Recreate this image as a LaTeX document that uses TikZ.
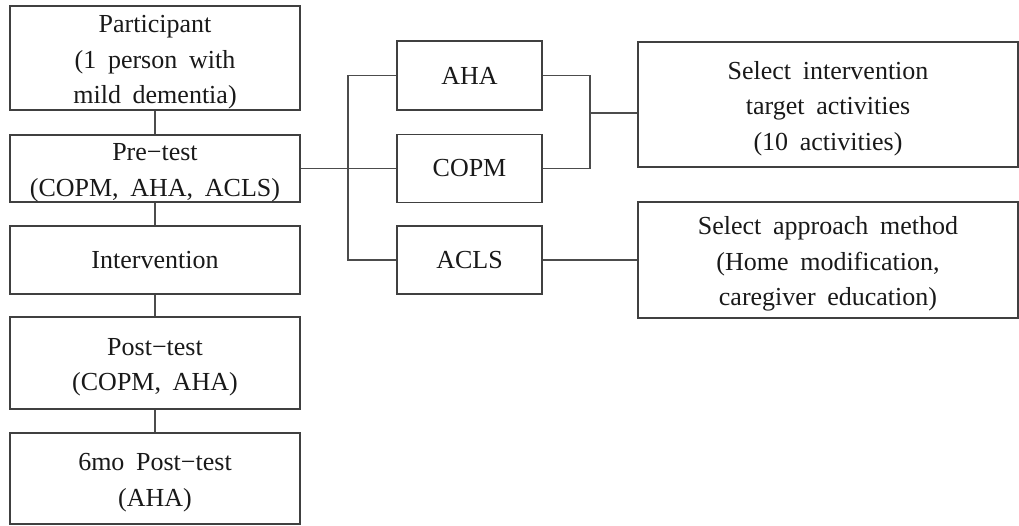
\documentclass[tikz,border=0pt]{standalone}
\usepackage{fontspec}
\setmainfont{Liberation Serif}
\newcommand\widesp{\spaceskip=0.45em plus 0.1em\relax}
\newcommand\tstrut{\rule{0pt}{26pt}}
\begin{document}
\begin{tikzpicture}[x=1pt,y=-1pt,
  box/.style={draw=black!75,line width=1.3pt,rectangle,inner xsep=0pt,inner ysep=-2pt,align=center,
    font={\fontsize{26}{35.5}\selectfont\widesp},text=black!90},
  conn/.style={draw=black!70,line width=1.3pt}]
\useasboundingbox (0,0) rectangle (1019,525);
\node[box,minimum width=290pt,minimum height=104pt] (part) at (155,58) {\tstrut Participant\\(1 person with\\mild dementia)};
\node[box,minimum width=290pt,minimum height=67pt] (pre) at (155,168.5) {\tstrut Pre−test\\(COPM, AHA, ACLS)};
\node[box,minimum width=290pt,minimum height=68pt] (int) at (155,260) {Intervention};
\node[box,minimum width=290pt,minimum height=92pt] (post) at (155,363) {\tstrut Post−test\\(COPM, AHA)};
\node[box,minimum width=290pt,minimum height=91pt] (six) at (155,478.5) {\tstrut 6mo Post−test\\(AHA)};
\node[box,minimum width=145pt,minimum height=69pt] (aha) at (469.5,75.5) {AHA};
\node[box,minimum width=145pt,minimum height=68pt] (copm) at (469.5,168.5) {COPM};
\node[box,minimum width=145pt,minimum height=68pt] (acls) at (469.5,260) {ACLS};
\node[box,minimum width=380pt,minimum height=125pt] (tgt) at (828,104.5) {\tstrut Select intervention\\target activities\\(10 activities)};
\node[box,minimum width=380pt,minimum height=116pt] (meth) at (828,260) {\tstrut Select approach method\\(Home modification,\\caregiver education)};
\coordinate (j1) at (348,168.5);
\coordinate (j2) at (590,113);
\draw[conn] (part) -- (pre);
\draw[conn] (pre) -- (int);
\draw[conn] (int) -- (post);
\draw[conn] (post) -- (six);
\draw[conn] (pre.east) -- (copm.west);
\draw[conn] (aha.west) -| (j1) |- (acls.west);
\draw[conn] (aha.east) -| (j2) |- (copm.east);
\draw[conn] (j2) -- (j2 -| tgt.west);
\draw[conn] (acls.east) -- (meth.west);
\end{tikzpicture}
\end{document}
